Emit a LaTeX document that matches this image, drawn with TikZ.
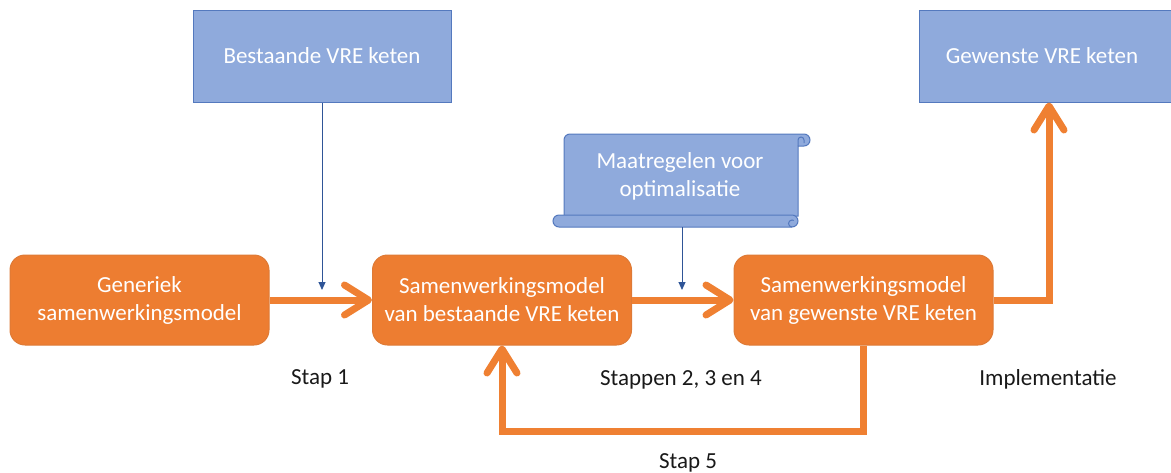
\documentclass[tikz,border=0pt]{standalone}
\usepackage{fontspec}
\setmainfont{Carlito}
\usetikzlibrary{arrows.meta}
\definecolor{boxblue}{HTML}{8FAADC}
\definecolor{edgeblue}{HTML}{5479BE}
\definecolor{lineblue}{HTML}{2F5597}
\definecolor{boxorange}{HTML}{ED7D31}
\definecolor{edgeorange}{HTML}{DE7A36}
\definecolor{flow}{HTML}{EF8032}
\begin{document}
\begin{tikzpicture}[x=1pt,y=-1pt,
  every node/.style={font=\fontsize{23}{28}\selectfont},
  bluebox/.style={draw=edgeblue,line width=1pt,fill=boxblue,text=white,
    minimum height=92pt,inner sep=0pt},
  stagebox/.style={draw=edgeorange,line width=1pt,fill=boxorange,text=white,
    rounded corners=15pt,minimum width=259pt,minimum height=90pt,
    align=center,inner sep=0pt},
  scrollshape/.style={draw=edgeblue,line width=1pt,fill=boxblue},
  flowarrow/.style={draw=flow,line width=7pt,
    -{Straight Barb[length=24pt,width=30pt,round]}},
  thinarrow/.style={draw=lineblue,line width=1pt,
    -{Triangle[length=8pt,width=7pt]}},
  steplabel/.style={anchor=base,text=black!90}]
\useasboundingbox (0,0) rectangle (1171,472);

% input and target chains
\node[bluebox,minimum width=258pt] (bst) at (322,56) {Bestaande VRE keten};
\node[bluebox,minimum width=262pt,
  label={[text=white,xshift=-8pt]center:Gewenste VRE keten}] (gew) at (1050,56) {};

% optimisation measures on a scroll
\path[scrollshape] (564,216) -- (564,140) arc[start angle=180,end angle=270,radius=6]
  -- (804,134) arc[start angle=270,end angle=450,radius=6] -- (798,146) -- (798,216) -- cycle;
\draw[edgeblue,line width=1pt] (798,146) -- (798,140) arc[start angle=180,end angle=360,radius=3]
  -- (804,143);
\path[scrollshape] (559,215) -- (792,215) arc[start angle=270,end angle=450,radius=6]
  -- (559,227) arc[start angle=90,end angle=270,radius=6] -- cycle;
\draw[edgeblue,line width=1pt] (792,227) arc[start angle=90,end angle=300,radius=3.5];
\node[text=white,align=center] (mr) at (680,176) {Maatregelen voor\\optimalisatie};
\coordinate (mrfoot) at (682,227);

% the three collaboration models
\node[stagebox] (gen) at (139.5,300) {Generiek\\samenwerkingsmodel};
\node[stagebox] (sb) at (502,300) {Samenwerkingsmodel\\van bestaande VRE keten};
\node[stagebox] (sg) at (863.5,300) {Samenwerkingsmodel\\van gewenste VRE keten};

% inputs
\coordinate (in1) at (322,290);
\coordinate (in2) at (682,290);
\draw[thinarrow] (bst.south) -- (in1);
\draw[thinarrow] (mrfoot) -- (in2);

% flow between the models
\draw[flowarrow] (gen.east) -- (sb.west);
\draw[flowarrow] (sb.east) -- (sg.west);
\draw[flowarrow] (sg.east) -| ([xshift=-1pt]gew.south);
\draw[flowarrow] (sg.south) -- ++(0,86) -| (sb.south);

% step labels
\node[steplabel] (l1) at (320,384) {Stap 1};
\node[steplabel] (l234) at (681,385) {Stappen 2, 3 en 4};
\node[steplabel] (limp) at (1048,385) {Implementatie};
\node[steplabel] (l5) at (688,468) {Stap 5};
\end{tikzpicture}
\end{document}
